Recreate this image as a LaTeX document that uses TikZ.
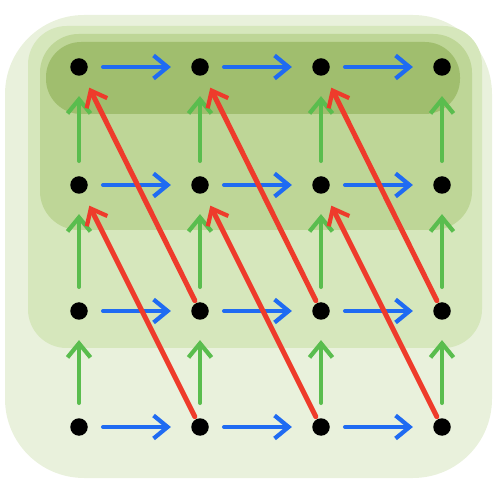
\documentclass[tikz,border=0pt]{standalone}
\usepackage{tikz}
\usetikzlibrary{arrows.meta}
\definecolor{wash}{HTML}{E9F1DC}
\definecolor{washtwo}{HTML}{D6E7BC}
\definecolor{washthree}{HTML}{BED697}
\definecolor{washfour}{HTML}{A0BE6E}
\definecolor{penblue}{HTML}{1F6BF2}
\definecolor{pengreen}{HTML}{5ABD4E}
\definecolor{penred}{HTML}{EE3B2B}

\begin{document}
\begin{tikzpicture}[x=0.2mm,y=-0.2mm,
  dot/.style={circle,fill=black,inner sep=0pt,minimum size=3.5mm},
  pen/.style={line width=2.4pt,line cap=round,-{Straight Barb[length=2.8mm,width=4.6mm,line width=2.4pt]}},
  step right/.style={pen,draw=penblue,shorten <=3mm,shorten >=4mm},
  step up/.style={pen,draw=pengreen,shorten <=3mm,shorten >=4mm},
  jump/.style={pen,draw=penred,line width=2.9pt,shorten <=0.5mm,shorten >=2.8mm}]
\useasboundingbox (0,0) rectangle (500,486);
% background washes, darker towards the top rows
\fill[wash,rounded corners=45pt] (5,15) rectangle (492,478);
\fill[washtwo,rounded corners=22pt] (28,26) rectangle (482,348);
\fill[washthree,rounded corners=22pt] (40,34) rectangle (472,230);
\fill[washfour,rounded corners=20pt] (46,42) rectangle (460,114);
% the 4x4 grid of dots
\foreach \c/\x in {0/79,1/200,2/321,3/442}{
  \foreach \r/\y in {0/67,1/185,2/311,3/427}{
    \node[dot] (d\c\r) at (\x,\y) {};
  }
}
% blue: one step right
\foreach \c [evaluate=\c as \n using int(\c+1)] in {0,1,2}{
  \foreach \r in {0,...,3}{\draw[step right] (d\c\r) -- (d\n\r);}
}
% green: one step up
\foreach \c in {0,...,3}{
  \foreach \r [evaluate=\r as \n using int(\r+1)] in {0,1,2}{\draw[step up] (d\c\n) -- (d\c\r);}
}
% red: two up, one back
\foreach \c [evaluate=\c as \n using int(\c+1)] in {0,1,2}{
  \foreach \r [evaluate=\r as \m using int(\r+2)] in {0,1}{\draw[jump] (d\n\m) -- (d\c\r);}
}
\end{tikzpicture}
\end{document}
